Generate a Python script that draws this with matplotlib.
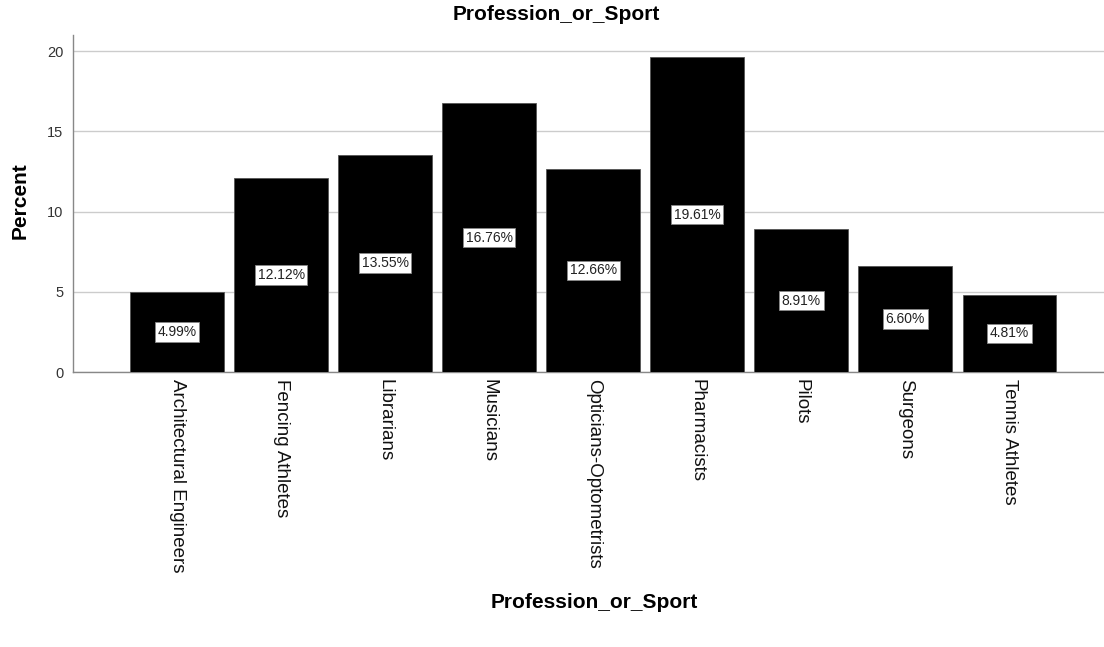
import matplotlib
matplotlib.use("Agg")
import matplotlib.pyplot as plt

categories = ["Architectural Engineers", "Fencing Athletes", "Librarians", "Musicians",
              "Opticians-Optometrists", "Pharmacists", "Pilots", "Surgeons", "Tennis Athletes"]
percents = [4.99, 12.12, 13.55, 16.76, 12.66, 19.61, 8.91, 6.60, 4.81]
yticks = [0, 5, 10, 15, 20]

plt.rcParams["font.family"] = ["Liberation Sans", "DejaVu Sans"]

fig = plt.figure(figsize=(11.04, 6.47), dpi=100)
W, H = 1104, 647
ax = fig.add_axes([73 / W, 1 - 372 / H, (1104 - 73) / W, (372 - 35) / H])

x = list(range(len(categories)))
ax.bar(x, percents, width=0.9, color="black", edgecolor="#555555", linewidth=0.6, zorder=3)

for xi, v in zip(x, percents):
    ax.text(xi, v / 2, f"{v:.2f}%", ha="center", va="center", fontsize=10, color="#222222",
            zorder=4,
            bbox=dict(boxstyle="square,pad=0.2", facecolor="white", edgecolor="#888888", linewidth=0.6))

ax.set_xlim(-1.0, 8.91)
ax.set_ylim(0, 21)
ax.set_yticks(yticks)
ax.set_yticklabels([str(t) for t in yticks], fontsize=10.5, color="#333333")
ax.set_xticks(x)
ax.set_xticklabels(categories, rotation=-90, fontsize=13.5, color="#111111", va="top", ha="center")
ax.tick_params(axis="x", length=0, pad=5)
ax.tick_params(axis="y", length=0, pad=7)

ax.yaxis.grid(True, color="#cccccc", linewidth=1.0, zorder=0)
ax.set_axisbelow(True)
for side in ["top", "right"]:
    ax.spines[side].set_visible(False)
for side in ["left", "bottom"]:
    ax.spines[side].set_color("#888888")
    ax.spines[side].set_linewidth(1.0)

fig.text(556 / W, 1 - 15 / H, "Profession_or_Sport", ha="center", va="center",
         fontsize=15, fontweight="bold")
fig.text(594 / W, 1 - 602 / H, "Profession_or_Sport", ha="center", va="center",
         fontsize=15, fontweight="bold")
fig.text(20 / W, 1 - 201 / H, "Percent", ha="center", va="center", rotation=90,
         fontsize=15, fontweight="bold")

fig.savefig("out.png", dpi=100)
